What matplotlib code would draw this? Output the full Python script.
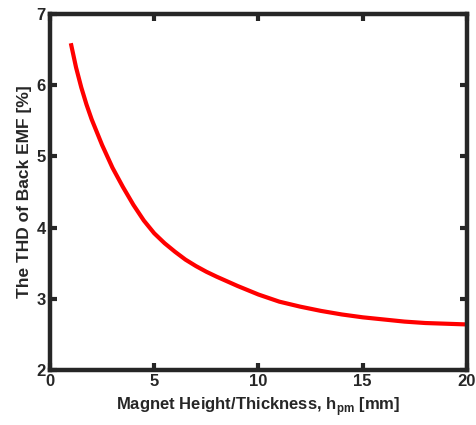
import matplotlib
matplotlib.use("Agg")
import matplotlib.pyplot as plt

# THD of back EMF vs. magnet thickness
h_pm = [1, 1.25, 1.5, 1.75, 2, 2.5, 3, 3.5, 4, 4.5, 5, 5.5, 6, 6.5, 7, 7.5, 8,
        9, 10, 11, 12, 13, 14, 15, 16, 17, 18, 19, 20]
thd = [6.59, 6.25, 5.97, 5.73, 5.52, 5.16, 4.84, 4.57, 4.32, 4.10, 3.92, 3.78, 3.66, 3.55,
       3.46, 3.38, 3.31, 3.18, 3.06, 2.96, 2.89, 2.83, 2.78, 2.74, 2.71, 2.68, 2.66, 2.65, 2.64]

x_ticks = [0, 5, 10, 15, 20]
y_ticks = [2, 3, 4, 5, 6, 7]

plt.rcParams['font.family'] = ['Liberation Sans', 'DejaVu Sans']
plt.rcParams['font.weight'] = 'bold'
plt.rcParams['mathtext.fontset'] = 'custom'
plt.rcParams['mathtext.bf'] = 'Liberation Sans:bold'

fig = plt.figure(figsize=(4.76, 4.25), dpi=100)
ax = fig.add_axes([0.105, 0.1294, 0.876, 0.8376])

ax.plot(h_pm, thd, color='red', linewidth=3, solid_capstyle='butt')

ax.set_xlim(0, 20)
ax.set_ylim(2, 7)
ax.set_xticks(x_ticks)
ax.set_yticks(y_ticks)

edge = '#262626'
for s in ax.spines.values():
    s.set_linewidth(3.2)
    s.set_color(edge)
ax.tick_params(direction='in', length=5, width=3, color=edge, top=True, right=True,
               labelsize=12, labelcolor=edge, pad=3)
for lab in ax.get_xticklabels() + ax.get_yticklabels():
    lab.set_fontweight('bold')

ax.set_xlabel('Magnet Height/Thickness, h$_{\\mathbf{pm}}$ [mm]', fontsize=12, fontweight='bold',
              color=edge, labelpad=4)
ax.set_ylabel('The THD of Back EMF [%]', fontsize=12.5, fontweight='bold', color=edge, labelpad=3)

fig.savefig('out.png', dpi=100)
